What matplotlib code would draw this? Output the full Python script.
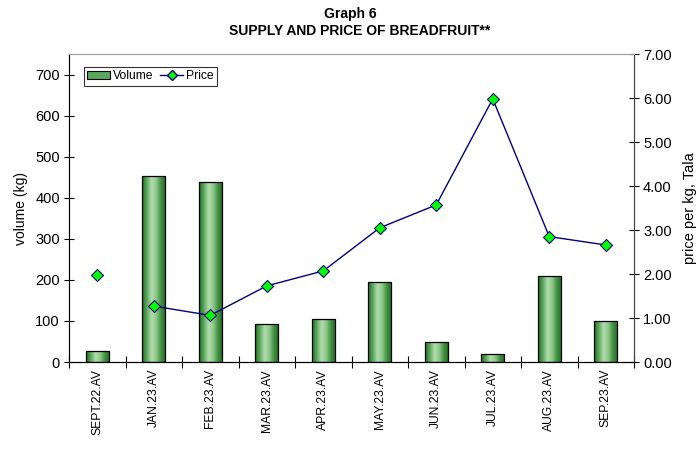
import numpy as np
import matplotlib
matplotlib.use("Agg")
import matplotlib.pyplot as plt
from matplotlib.lines import Line2D
from matplotlib.patches import Patch
from matplotlib.colors import LinearSegmentedColormap

plt.rcParams['font.family'] = ['Liberation Sans', 'DejaVu Sans']

categories = ["SEPT.22.AV", "JAN.23.AV", "FEB.23.AV", "MAR.23.AV", "APR.23.AV",
              "MAY.23.AV", "JUN.23.AV", "JUL.23.AV", "AUG.23.AV", "SEP.23.AV"]
volume = [27, 453, 440, 92, 105, 195, 48, 20, 210, 100]
price = [1.98, 1.27, 1.06, 1.73, 2.07, 3.05, 3.57, 5.98, 2.85, 2.66]

fig = plt.figure(figsize=(6.97, 4.59), dpi=100)
ax = fig.add_axes([69/697, 1-362/459, (634-69)/697, (362-54)/459])
ax2 = ax.twinx()

x = np.arange(len(categories))
bw = 0.41
bars = ax.bar(x, volume, width=bw, color='none', edgecolor='black', linewidth=0.9, zorder=3)

cmap = LinearSegmentedColormap.from_list('g', ['#1e6b1e', '#5aa85a', '#b5dcb0', '#8cc888', '#3f8f3f', '#1e6b1e'])
grad = np.linspace(0, 1, 256).reshape(1, -1)
for b in bars:
    bx, by = b.get_x(), b.get_y()
    w, h = b.get_width(), b.get_height()
    im = ax.imshow(grad, cmap=cmap, aspect='auto', extent=[bx, bx + w, by, by + h],
                   zorder=2, interpolation='bicubic')
    im.set_clip_path(b)

ax.set_xlim(-0.5, len(categories) - 0.5)
ax.set_ylim(0, 751)
ax.set_yticks(range(0, 701, 100))
ax.set_xticks(x)
ax.set_xticklabels(categories, rotation=90, fontsize=8.7)
ax.set_xticks(np.arange(-0.5, len(categories), 1), minor=True)
ax.tick_params(axis='x', which='major', length=0, pad=5)
ax.tick_params(axis='x', which='minor', direction='inout', length=8, width=0.8)
ax.tick_params(axis='y', direction='inout', length=7, width=0.8, labelsize=10.5, pad=3)
ax.set_ylabel('volume (kg)', fontsize=10, labelpad=5)

ax2.plot(x[1:], price[1:], color='#000080', linewidth=1, zorder=4)
ax2.plot(x, price, linestyle='none', marker='D', markersize=6.5, markerfacecolor='#00ff00',
         markeredgecolor='#000080', markeredgewidth=0.8, zorder=5)
ax2.set_ylim(0, 7)
ax2.set_yticks(np.arange(0, 7.01, 1))
ax2.set_yticklabels([f"{v:.2f}" for v in np.arange(0, 7.01, 1)])
ax2.tick_params(axis='y', direction='inout', length=7, width=0.8, labelsize=10.5, colors='black', pad=3)
ax2.set_ylabel('price per kg, Tala', fontsize=10.5, labelpad=8)

for a in (ax, ax2):
    a.spines['top'].set_color('#a0a0a0')
    a.spines['left'].set_color('black')
    a.spines['right'].set_color('#404040')
    a.spines['bottom'].set_color('black')

handles = [Patch(facecolor='#5aa85a', edgecolor='black', linewidth=0.8),
           Line2D([0], [0], color='#000080', lw=1, marker='D', markersize=5,
                  markerfacecolor='#00ff00', markeredgecolor='#000080')]
leg = ax.legend(handles, ['Volume', 'Price'], loc='upper left', bbox_to_anchor=(0.015, 0.978),
                ncol=2, fontsize=8.7, frameon=True, fancybox=False, edgecolor='black',
                handlelength=1.9, handletextpad=0.2, columnspacing=0.6, borderpad=0.3)
leg.get_frame().set_linewidth(0.8)
leg.set_zorder(10)

fig.text(350/697, 1-14/459, 'Graph 6', ha='center', va='center', fontsize=10, fontweight='bold')
fig.text(360/697, 1-31/459, 'SUPPLY AND PRICE OF BREADFRUIT**', ha='center', va='center',
         fontsize=10, fontweight='bold')

fig.savefig('out.png', dpi=100)
